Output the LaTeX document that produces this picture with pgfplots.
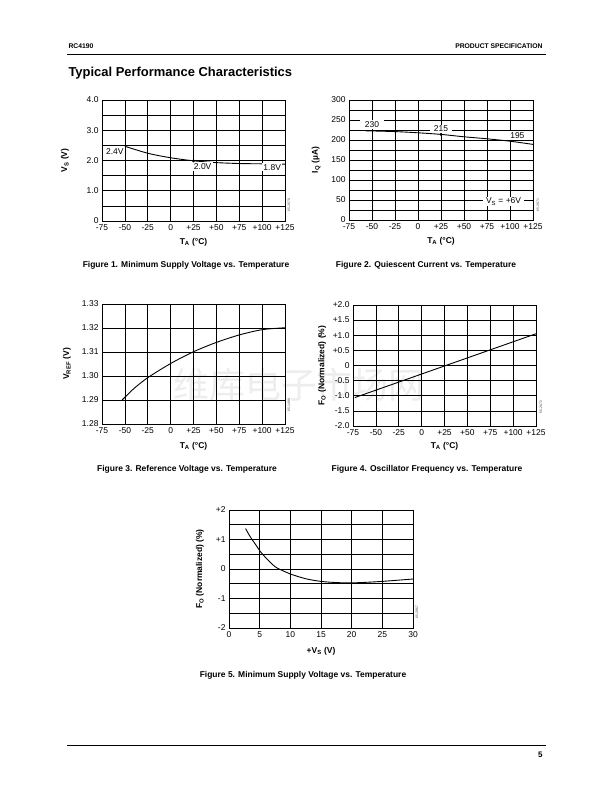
\documentclass[border=0pt]{standalone}
\usepackage{pgfplots}
\pgfplotsset{compat=1.18}
\usepackage{fontspec}
\setmainfont{Liberation Sans}
\newfontfamily\cjk{Noto Sans CJK SC}

\pgfplotsset{
  sheet/.style={
    scale only axis, anchor=south west,
    grid=major, grid style={black, line width=0.6pt},
    axis line style={black, line width=0.8pt},
    major tick length=0pt,
    tick label style={font=\fontsize{8.5}{9}\selectfont},
    label style={font=\bfseries\fontsize{8.5}{9}\selectfont},
    clip=false,
  },
  temp/.style={
    xmin=-75, xmax=125, xtick={-75,-50,...,125},
    xticklabels={-75,-50,-25,0,+25,+50,+75,+100,+125},
    xlabel={T\textsubscript{A} (°C)},
  },
  ylpos/.style={ylabel style={at={(rel axis cs:#1,0.5)}, anchor=center}},
  xlpos/.style={xlabel style={at={(rel axis cs:0.5,#1)}, anchor=center}},
}
\tikzset{
  curve/.style={black, line width=0.9pt, smooth},
  lbl/.style={fill=white, inner sep=1.2pt, font=\fontsize{8.5}{9}\selectfont},
  figcap/.style={font=\bfseries\fontsize{8.5}{9}\selectfont},
  fid/.style={rotate=90, font=\fontsize{3.5}{4}\selectfont, text=black!70},
}

\begin{document}
\begin{tikzpicture}[x=1bp, y=1bp]
\useasboundingbox (0,0) rectangle (612,792);
\coordinate (A1) at (102,571);
\coordinate (A2) at (349,572);
\coordinate (A3) at (102,368);
\coordinate (A4) at (353,366);
\coordinate (A5) at (229,164);

% watermark
\node[text=black!7, font=\cjk\fontsize{36}{36}\selectfont] at (299,407) {维库电子市场网};

% header and footer
\node[anchor=west, font=\bfseries\fontsize{6.8}{8}\selectfont] at (65,746) {RC4190};
\node[anchor=east, font=\bfseries\fontsize{6.8}{8}\selectfont] at (546,746) {PRODUCT SPECIFICATION};
\draw[line width=0.8pt] (67,738) -- (546,738);
\node[anchor=west, font=\bfseries\fontsize{13}{15}\selectfont] at (65,719) {Typical Performance Characteristics};
\draw[line width=0.8pt] (67,47) -- (546,47);
\node[anchor=east, font=\bfseries\fontsize{8}{9}\selectfont] at (546,37) {5};

% Figure 1
\begin{axis}[sheet, temp, at={(A1)}, width=183bp, height=121bp,
  ylpos=-0.202, xlpos=-0.174,
  ymin=0, ymax=4, ytick={0,0.5,...,4}, yticklabels={0,,1.0,,2.0,,3.0,,4.0},
  ylabel={V\textsubscript{S} (V)}]
\addplot[curve, no marks] coordinates {(-50,2.47) (-25,2.24) (0,2.09) (25,1.99) (50,1.93) (75,1.9) (100,1.89) (125,1.88)};
\addplot[only marks, mark=*, mark size=1.3pt, black] coordinates {(25,1.99)};
\node[lbl] at (axis cs:-61,2.3) {2.4V};
\node[lbl] at (axis cs:35,1.8) {2.0V};
\node[lbl] at (axis cs:111,1.78) {1.8V};
\end{axis}
\node[fid] at (289,587) {65-2670};
\node[figcap] at (186,527) {Figure 1. Minimum Supply Voltage vs. Temperature};

% Figure 2
\begin{axis}[sheet, temp, at={(A2)}, width=184bp, height=120bp,
  ylpos=-0.179, xlpos=-0.175,
  ymin=0, ymax=300, ytick={0,25,...,300},
  yticklabels={0,,50,,100,,150,,200,,250,,300},
  ylabel={I\textsubscript{Q} (µA)}]
\addplot[curve, no marks] coordinates {(-57,223) (-25,221) (0,218) (25,214) (50,208) (75,203) (100,197) (125,189)};
\addplot[only marks, mark=*, mark size=1.3pt, black] coordinates {(25,214)};
\node[lbl, inner xsep=5pt] at (axis cs:-50,239) {230};
\node[lbl, inner xsep=4pt] at (axis cs:25,228) {215};
\node[lbl, inner xsep=4pt] at (axis cs:108,211) {195};
\node[lbl, inner xsep=3pt] at (axis cs:93,46) {V\textsubscript{S} = +6V};
\end{axis}
\node[fid] at (538,587) {65-2671};
\node[figcap] at (426,527) {Figure 2. Quiescent Current vs. Temperature};

% Figure 3
\begin{axis}[sheet, temp, at={(A3)}, width=183bp, height=120bp,
  ylpos=-0.191, xlpos=-0.183,
  ymin=1.28, ymax=1.33, ytick={1.28,1.29,1.30,1.31,1.32,1.33},
  yticklabels={1.28,1.29,1.30,1.31,1.32,1.33},
  ylabel={V\textsubscript{REF} (V)}]
\addplot[curve, no marks] coordinates {(-53,1.29) (-40,1.2948) (-25,1.2993) (0,1.3052) (25,1.3101) (50,1.3140) (75,1.3171) (100,1.3193) (125,1.3201)};
\end{axis}
\node[fid] at (289,387) {65-1498};
\node[figcap] at (187,323) {Figure 3. Reference Voltage vs. Temperature};

% Figure 4
\begin{axis}[sheet, temp, at={(A4)}, width=183bp, height=121bp,
  ylpos=-0.169, xlpos=-0.165,
  ymin=-2, ymax=2, ytick={-2,-1.5,...,2},
  yticklabels={-2.0,-1.5,-1.0,-0.5,0,+0.5,+1.0,+1.5,+2.0},
  ylabel={F\textsubscript{O} (Normalized) (\%)}]
\addplot[black, line width=0.9pt, no marks] coordinates {(-73,-1.06) (125,1.05)};
\end{axis}
\node[fid] at (541,385) {65-2672};
\node[figcap] at (427,323) {Figure 4. Oscillator Frequency vs. Temperature};

% Figure 5
\begin{axis}[sheet, at={(A5)}, width=184bp, height=118bp,
  ylpos=-0.158, xlpos=-0.195,
  xmin=0, xmax=30, xtick={0,5,...,30},
  xticklabels={0,5,10,15,20,25,30},
  xlabel={+V\textsubscript{S} (V)},
  ymin=-2, ymax=2, ytick={-2,-1.5,...,2},
  yticklabels={-2,,-1,,0,,+1,,+2},
  ylabel={F\textsubscript{O} (Normalized) (\%)}]
\addplot[curve, no marks] coordinates {(2.7,1.37) (3.5,1.08) (4.5,0.78) (5,0.62) (6,0.38) (7.5,0.08) (9,-0.08) (10,-0.17) (12.5,-0.33) (15,-0.42) (17.5,-0.46) (20,-0.47) (22.5,-0.45) (25,-0.42) (27.5,-0.38) (30,-0.34)};
\end{axis}
\node[fid] at (417,180) {65-2867};
\node[figcap] at (303,117) {Figure 5. Minimum Supply Voltage vs. Temperature};

\end{tikzpicture}
\end{document}
